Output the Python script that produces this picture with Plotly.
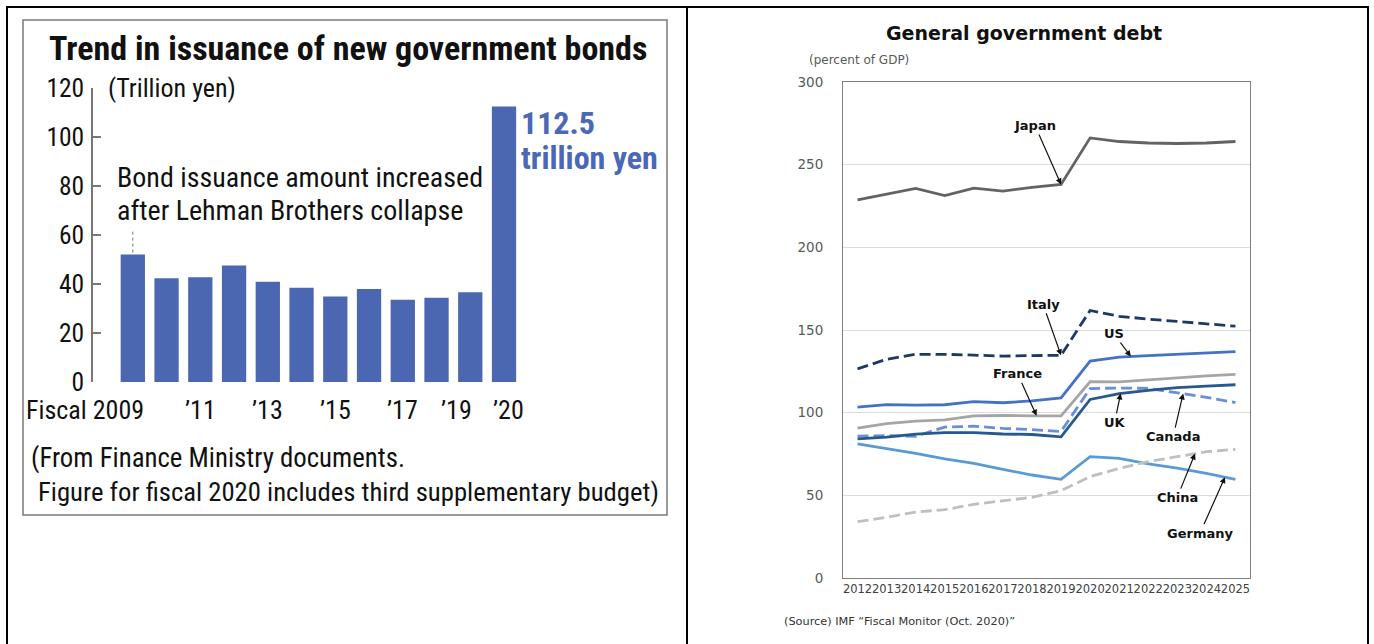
import plotly.graph_objects as go
import numpy as np

W, H = 1374, 644

# ---------------- Left chart data ----------------
fiscal_years = [2009, 2010, 2011, 2012, 2013, 2014, 2015, 2016, 2017, 2018, 2019, 2020]
bond_issuance = [52.0, 42.3, 42.8, 47.5, 40.9, 38.5, 34.9, 38.0, 33.6, 34.4, 36.6, 112.5]
left_tick_years = [2009, 2011, 2013, 2015, 2017, 2019, 2020]
left_tick_text = ["Fiscal 2009", "’11", "’13", "’15", "’17", "’19", "’20"]
left_yticks = [0, 20, 40, 60, 80, 100, 120]

# ---------------- Right chart data ----------------
years = list(range(2012, 2026))
japan = [228.7, 232.3, 235.7, 231.3, 235.8, 234.0, 236.3, 238.0, 266.2, 264.0, 263.1, 262.8, 263.1, 264.0]
italy = [126.5, 132.3, 135.3, 135.3, 134.8, 134.2, 134.5, 134.7, 161.8, 158.3, 156.6, 155.3, 154.0, 152.3]
us = [103.3, 104.9, 104.6, 104.8, 106.7, 106.0, 107.1, 108.9, 131.2, 133.6, 134.5, 135.3, 136.1, 136.9]
france = [90.6, 93.4, 94.9, 95.6, 98.0, 98.3, 98.1, 98.1, 118.7, 118.6, 119.8, 121.1, 122.3, 123.1]
uk = [84.1, 85.2, 87.0, 87.9, 87.9, 87.1, 86.8, 85.4, 108.0, 111.5, 113.5, 115.2, 116.1, 116.9]
canada = [85.8, 86.2, 85.7, 91.3, 91.8, 90.5, 89.7, 88.6, 114.6, 114.9, 114.7, 112.1, 109.3, 106.1]
germany = [81.1, 78.4, 75.4, 72.0, 69.4, 65.7, 62.3, 59.7, 73.4, 72.4, 69.0, 66.4, 63.3, 59.7]
china = [34.1, 36.7, 39.9, 41.3, 44.6, 46.8, 48.8, 52.8, 61.3, 66.3, 70.4, 73.4, 76.4, 77.8]
right_yticks = [0, 50, 100, 150, 200, 250, 300]

NARROW = "Roboto Condensed, Liberation Sans Narrow, Arial Narrow, Liberation Sans, Arial, sans-serif"
DJ = "DejaVu Sans, Verdana, sans-serif"


def fx(p):
    return p / W


def fy(p):
    return 1 - p / H


fig = go.Figure()

# ---- Left bar chart ----
fig.add_trace(go.Bar(
    x=fiscal_years, y=bond_issuance, width=0.72,
    marker=dict(color="#4c67b2", line=dict(width=0)),
    xaxis="x", yaxis="y", showlegend=False, hoverinfo="x+y",
))

# ---- Right line chart ----
series = [
    ("Japan", japan, "#636363", "solid"),
    ("Italy", italy, "#203864", "11px,5px"),
    ("US", us, "#4472c4", "solid"),
    ("France", france, "#a5a5a5", "solid"),
    ("Canada", canada, "#6a8fd6", "11px,5px"),
    ("UK", uk, "#265a8c", "solid"),
    ("Germany", germany, "#5b9bd5", "solid"),
    ("China", china, "#bfbfbf", "11px,5px"),
]
for name, vals, col, dash in series:
    fig.add_trace(go.Scatter(
        x=years, y=vals, mode="lines", name=name,
        line=dict(color=col, width=2.8, dash=dash),
        xaxis="x2", yaxis="y2", showlegend=False,
    ))

annotations = []

# Left chart texts
annotations.append(dict(xref="paper", yref="paper", x=fx(348), y=fy(48),
                        text="<b>Trend in issuance of new government bonds</b>",
                        showarrow=False, xanchor="center", yanchor="middle",
                        font=dict(family=NARROW, size=34, color="#111")))
annotations.append(dict(xref="paper", yref="paper", x=fx(106), y=fy(88),
                        text="(Trillion yen)", showarrow=False, xanchor="left", yanchor="middle",
                        font=dict(family=NARROW, size=26, color="#111")))
annotations.append(dict(xref="paper", yref="paper", x=fx(115), y=fy(177),
                        text="Bond issuance amount increased", showarrow=False,
                        xanchor="left", yanchor="middle",
                        font=dict(family=NARROW, size=28, color="#111")))
annotations.append(dict(xref="paper", yref="paper", x=fx(115), y=fy(210),
                        text="after Lehman Brothers collapse", showarrow=False,
                        xanchor="left", yanchor="middle",
                        font=dict(family=NARROW, size=28, color="#111")))
annotations.append(dict(xref="paper", yref="paper", x=fx(519), y=fy(123),
                        text="<b>%.1f</b>" % bond_issuance[-1], showarrow=False,
                        xanchor="left", yanchor="middle",
                        font=dict(family=NARROW, size=32, color="#4a68b5")))
annotations.append(dict(xref="paper", yref="paper", x=fx(519), y=fy(158),
                        text="<b>trillion yen</b>", showarrow=False,
                        xanchor="left", yanchor="middle",
                        font=dict(family=NARROW, size=32, color="#4a68b5")))
shifts = {2009: 13, 2019: -14, 2020: 4}
for yr, txt in zip(left_tick_years, left_tick_text):
    annotations.append(dict(xref="x", yref="paper", x=yr, y=fy(410), text=txt,
                            showarrow=False,
                            xanchor="right" if yr == 2009 else "center", yanchor="middle",
                            xshift=shifts.get(yr, 0),
                            font=dict(family=NARROW, size=26, color="#111")))
annotations.append(dict(xref="paper", yref="paper", x=fx(29), y=fy(458),
                        text="(From Finance Ministry documents.", showarrow=False,
                        xanchor="left", yanchor="middle",
                        font=dict(family=NARROW, size=26.8, color="#111")))
annotations.append(dict(xref="paper", yref="paper", x=fx(36), y=fy(492),
                        text="Figure for fiscal 2020 includes third supplementary budget)",
                        showarrow=False, xanchor="left", yanchor="middle",
                        font=dict(family=NARROW, size=26.7, color="#111")))

# Right chart texts
annotations.append(dict(xref="paper", yref="paper", x=fx(1024), y=fy(33),
                        text="<b>General government debt</b>", showarrow=False,
                        xanchor="center", yanchor="middle",
                        font=dict(family=DJ, size=19, color="#111")))
annotations.append(dict(xref="paper", yref="paper", x=fx(807), y=fy(60),
                        text="(percent of GDP)", showarrow=False,
                        xanchor="left", yanchor="middle",
                        font=dict(family=DJ, size=12, color="#595959")))
annotations.append(dict(xref="paper", yref="paper", x=fx(782), y=fy(621),
                        text="(Source) IMF “Fiscal Monitor (Oct. 2020)”", showarrow=False,
                        xanchor="left", yanchor="middle",
                        font=dict(family=DJ, size=11.3, color="#333")))

# Line labels with arrows: (name, values, tip year, text offset px)
label_cfg = [
    ("Japan", japan, 2019.0, -26, -59),
    ("Italy", italy, 2019.0, -18, -51),
    ("US", us, 2021.4, -17, -23),
    ("France", france, 2018.16, -19, -42),
    ("UK", uk, 2021.05, -6, 29),
    ("Canada", canada, 2023.2, -10, 43),
    ("China", china, 2023.61, -18, 44),
    ("Germany", germany, 2024.64, -25, 56),
]
for name, vals, xt, ax, ay in label_cfg:
    yt = float(np.interp(xt, years, vals))
    annotations.append(dict(xref="x2", yref="y2", x=xt, y=yt, text="<b>%s</b>" % name,
                            showarrow=True, ax=ax, ay=ay, arrowhead=2, arrowsize=1,
                            arrowwidth=1.2, arrowcolor="#111", standoff=0,
                            font=dict(family=DJ, size=13, color="#111")))

shapes = [
    # outer frame
    dict(type="line", xref="paper", yref="paper", x0=fx(6), x1=fx(1369), y0=fy(7), y1=fy(7),
         line=dict(color="#000", width=2)),
    dict(type="line", xref="paper", yref="paper", x0=fx(7), x1=fx(7), y0=fy(7), y1=fy(644),
         line=dict(color="#000", width=2)),
    dict(type="line", xref="paper", yref="paper", x0=fx(687), x1=fx(687), y0=fy(7), y1=fy(644),
         line=dict(color="#000", width=2)),
    dict(type="line", xref="paper", yref="paper", x0=fx(1368), x1=fx(1368), y0=fy(7), y1=fy(644),
         line=dict(color="#000", width=2)),
    # left chart box
    dict(type="rect", xref="paper", yref="paper", x0=fx(23), x1=fx(667), y0=fy(20), y1=fy(515),
         line=dict(color="#7a7a7a", width=1.5)),
    # dotted pointer above 2009 bar
    dict(type="line", xref="x", yref="y", x0=fiscal_years[0], x1=fiscal_years[0],
         y0=bond_issuance[0] + 0.8, y1=62.5, line=dict(color="#777", width=1, dash="dot")),
]

fig.update_layout(
    width=W, height=H, margin=dict(l=0, r=0, t=0, b=0, autoexpand=False),
    paper_bgcolor="white", plot_bgcolor="white",
    showlegend=False,
    annotations=annotations, shapes=shapes,
    xaxis=dict(domain=[fx(93), fx(530)], range=[2008.0 - 0.18, 2020.77], automargin=False,
               showticklabels=False, showgrid=False, zeroline=False, showline=False,
               ticks="", fixedrange=True),
    yaxis=dict(domain=[fy(382), fy(88)], range=[0, 120], tickvals=left_yticks, automargin=False,
               showgrid=False, zeroline=False, showline=True, linecolor="#777", linewidth=1.5,
               ticks="inside", ticklen=8, tickcolor="#777", tickwidth=1.5,
               tickfont=dict(family=NARROW, size=25.5, color="#111"), ticklabelstandoff=2),
    xaxis2=dict(domain=[fx(843), fx(1250)], range=[2011.5, 2025.5], tickvals=years,
                ticktext=[str(y) for y in years], anchor="y2", automargin=False,
                showgrid=False, zeroline=False, showline=True, mirror=True,
                linecolor="#7f7f7f", linewidth=1, ticks="",
                tickfont=dict(family=DJ, size=11.5, color="#404040"), tickangle=0),
    yaxis2=dict(domain=[fy(578), fy(82)], range=[0, 300], tickvals=right_yticks, anchor="x2",
                automargin=False,
                showgrid=True, gridcolor="#dcdcdc", gridwidth=1, zeroline=False,
                showline=True, mirror=True, linecolor="#7f7f7f", linewidth=1, ticks="",
                tickfont=dict(family=DJ, size=13.5, color="#595959"), ticklabelstandoff=16),
)

fig.write_html("out.html")
